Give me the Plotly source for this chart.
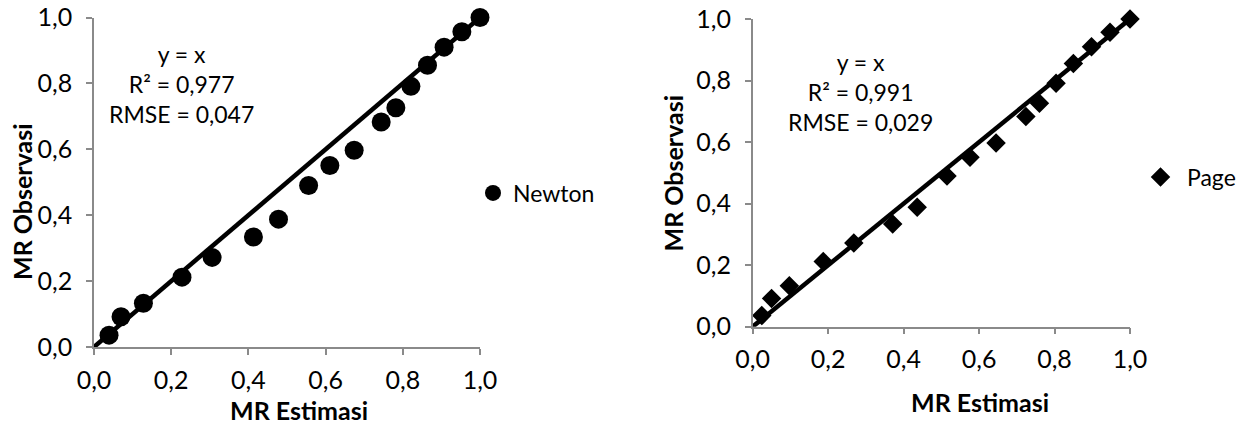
import plotly.graph_objects as go

W, H = 1256, 425

# Data
mr_observasi = [0.036, 0.092, 0.133, 0.212, 0.272, 0.334, 0.388, 0.490, 0.551,
                0.597, 0.683, 0.726, 0.791, 0.855, 0.910, 0.957, 1.000]
newton_estimasi = [0.039, 0.070, 0.128, 0.228, 0.306, 0.413, 0.478, 0.556, 0.611,
                   0.674, 0.744, 0.782, 0.821, 0.864, 0.907, 0.953, 1.000]
page_estimasi = [0.024, 0.050, 0.097, 0.187, 0.268, 0.371, 0.436, 0.515, 0.576,
                 0.645, 0.724, 0.760, 0.804, 0.850, 0.898, 0.947, 1.000]
line_x = [0.0, 1.0]
line_y = [0.0, 1.0]
tick_vals = [0.0, 0.2, 0.4, 0.6, 0.8, 1.0]
stats_newton = ["y = x", "R² = 0,977", "RMSE = 0,047"]
stats_page = ["y = x", "R² = 0,991", "RMSE = 0,029"]

FONT = "Lato"
FS = 23
TFS = 25
AXC = "#8a8a8a"

fig = go.Figure()

# Newton
fig.add_trace(go.Scatter(x=line_x, y=line_y, mode="lines", line=dict(color="black", width=4.5),
                         showlegend=False, xaxis="x", yaxis="y", hoverinfo="skip"))
fig.add_trace(go.Scatter(x=newton_estimasi, y=mr_observasi, mode="markers", name="Newton",
                         marker=dict(symbol="circle", size=19, color="black"),
                         cliponaxis=False, xaxis="x", yaxis="y", legend="legend"))
# Page
fig.add_trace(go.Scatter(x=line_x, y=line_y, mode="lines", line=dict(color="black", width=4.5),
                         showlegend=False, xaxis="x2", yaxis="y2", hoverinfo="skip"))
fig.add_trace(go.Scatter(x=page_estimasi, y=mr_observasi, mode="markers", name="Page",
                         marker=dict(symbol="diamond", size=15, color="black"),
                         cliponaxis=False, xaxis="x2", yaxis="y2", legend="legend2"))

axis_common = dict(range=[0, 1], tickvals=tick_vals, tickformat=".1f", showgrid=False,
                   zeroline=False, showline=True, linecolor=AXC, linewidth=1.5,
                   ticks="outside", ticklen=6, tickcolor=AXC, tickwidth=1.5,
                   automargin=False,
                   tickfont=dict(family=FONT, size=TFS, color="black"))
xaxis_common = dict(axis_common, ticklabelstandoff=4)
yaxis_common = dict(axis_common, ticklabelstandoff=9)

fig.update_layout(
    width=W, height=H,
    margin=dict(l=0, r=0, t=0, b=0, autoexpand=False),
    paper_bgcolor="white", plot_bgcolor="rgba(0,0,0,0)",
    separators=", ",
    font=dict(family=FONT, size=FS, color="black"),
    xaxis=dict(domain=[94 / W, 480 / W], anchor="y", **xaxis_common),
    yaxis=dict(domain=[1 - 347 / H, 1 - 17.5 / H], anchor="x", **yaxis_common),
    xaxis2=dict(domain=[752.7 / W, 1130 / W], anchor="y2", **xaxis_common),
    yaxis2=dict(domain=[1 - 326.7 / H, 1 - 19 / H], anchor="x2", **yaxis_common),
    legend=dict(x=473 / W, y=1 - 193 / H, xanchor="left", yanchor="middle",
                bgcolor="rgba(0,0,0,0)", font=dict(family=FONT, size=FS),
                itemwidth=30, borderwidth=0),
    legend2=dict(x=1134 / W, y=1 - 177 / H, xanchor="left", yanchor="middle",
                 bgcolor="rgba(0,0,0,0)", font=dict(family=FONT, size=FS),
                 itemwidth=43, borderwidth=0),
    showlegend=True,
)

ann = []
ann.append(dict(text="<br>".join(stats_newton), x=181.7 / W, y=1 - 84 / H, xref="paper", yref="paper",
                xanchor="center", yanchor="middle", showarrow=False, align="center",
                font=dict(family=FONT, size=FS)))
ann.append(dict(text="<br>".join(stats_page), x=860 / W, y=1 - 92 / H, xref="paper", yref="paper",
                xanchor="center", yanchor="middle", showarrow=False, align="center",
                font=dict(family=FONT, size=FS)))
title_font = dict(family=FONT, size=TFS, color="black", weight="bold")
ann.append(dict(text="<b>MR Observasi</b>", x=22 / W, y=1 - 202 / H, xref="paper", yref="paper",
                xanchor="center", yanchor="middle", textangle=-90, showarrow=False, font=title_font))
ann.append(dict(text="<b>MR Estimasi</b>", x=299 / W, y=1 - 410 / H, xref="paper", yref="paper",
                xanchor="center", yanchor="middle", showarrow=False, font=title_font))
ann.append(dict(text="<b>MR Observasi</b>", x=672.5 / W, y=1 - 173 / H, xref="paper", yref="paper",
                xanchor="center", yanchor="middle", textangle=-90, showarrow=False, font=title_font))
ann.append(dict(text="<b>MR Estimasi</b>", x=980 / W, y=1 - 402 / H, xref="paper", yref="paper",
                xanchor="center", yanchor="middle", showarrow=False, font=title_font))
fig.update_layout(annotations=ann)

fig.write_html("out.html")
